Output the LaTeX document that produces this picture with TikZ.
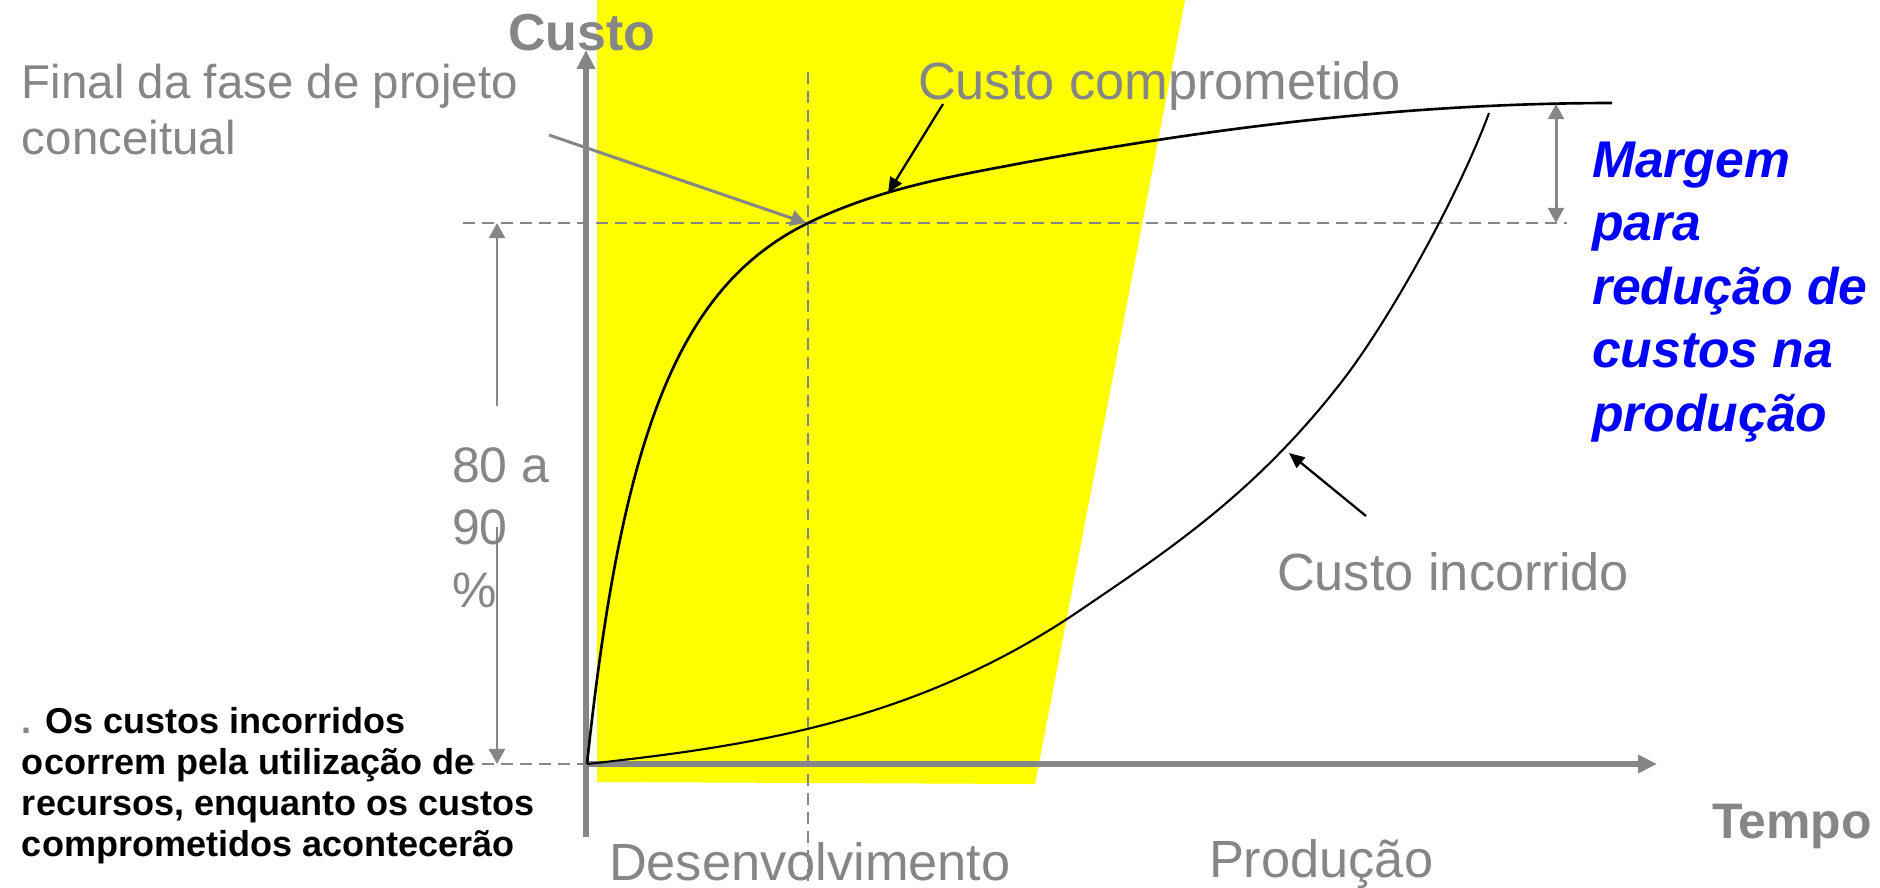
\documentclass[tikz,border=0pt]{standalone}
\usepackage{fontspec}
\setmainfont{Liberation Sans}
\usetikzlibrary{arrows.meta}
\definecolor{lgray}{RGB}{134,134,134}
\definecolor{myyellow}{RGB}{255,255,0}
\definecolor{myblue}{RGB}{0,0,255}
\begin{document}
\begin{tikzpicture}[x=0.1mm,y=-0.1mm,
  lbl/.style={anchor=base west, inner sep=0pt, outer sep=0pt},
  dashline/.style={draw=lgray, line width=0.7pt, dash pattern=on 3.4pt off 2pt},
  axisline/.style={draw=lgray, line width=1.7pt, -{Triangle[length=5.4pt,width=5pt]}},
  garrow/.style={draw=lgray, line width=0.85pt, -{Triangle[length=4.3pt,width=4.5pt]}},
  gdarrow/.style={draw=lgray, line width=0.85pt, {Triangle[length=4.3pt,width=4.5pt]}-{Triangle[length=4.3pt,width=4.5pt]}},
  barrow/.style={draw=black, line width=0.65pt, -{Triangle[length=4.4pt,width=3.8pt]}},
  curvea/.style={draw=black, line width=0.75pt},
  curveb/.style={draw=black, line width=0.6pt},
  glabel/.style={lbl, text=lgray, font=\fontsize{14.9pt}{17.9pt}\selectfont},
]
\useasboundingbox (0,0) rectangle (1880,887);
% yellow development zone
\fill[myyellow] (597,0) -- (1185,0) -- (1035,784) -- (597,782) -- cycle;

% coordinates
\coordinate (O) at (586,764);
\coordinate (ytop) at (586,50);
\coordinate (ybot) at (586,837);
\coordinate (xend) at (1657,764);
\coordinate (hl) at (463,223);
\coordinate (hr) at (1567,223);
\coordinate (vt) at (808,72);
\coordinate (vb) at (808,887);
\coordinate (bl) at (463,764);

% dashed guides
\draw[dashline] (hl) -- (hr);
\draw[dashline] (vt) -- (vb);
\draw[dashline] (bl) -- (O);

% axes
\draw[axisline] (ybot) -- (ytop);
\draw[axisline] (O) -- (xend);

% committed cost curve
\coordinate (ca0) at (587,764);
\coordinate (ca1) at (808,223);
\coordinate (ca2) at (1001,167);
\coordinate (ca3) at (1612,103);
\draw[curvea] (ca0) .. controls (622,434) and (678,287) .. (ca1)
  .. controls (872,192) and (937,179) .. (ca2)
  .. controls (1205,128) and (1408,103) .. (ca3);

% incurred cost curve
\coordinate (cb1) at (1079,611);
\coordinate (cb2) at (1343,380);
\coordinate (cb3) at (1489,113);
\draw[curveb] (ca0) .. controls (751,746) and (915,722) .. (cb1)
  .. controls (1167,551) and (1255,494) .. (cb2)
  .. controls (1392,316) and (1459,194) .. (cb3);

% texts
\node[lbl, text=lgray, font=\fontsize{14.8pt}{17pt}\selectfont\bfseries] (custo) at (508,50) {Custo};
\node[lbl, text=lgray, font=\fontsize{13.5pt}{16.2pt}\selectfont] (final) at (22,98)
  {\begin{tabular}[t]{@{}l@{}}Final da fase de projeto\\conceitual\end{tabular}};
\node[glabel] (ccomp) at (918,99) {Custo comprometido};
\node[lbl, text=lgray, font=\fontsize{14.2pt}{17.9pt}\selectfont] (pct) at (452,482)
  {\begin{tabular}[t]{@{}l@{}}80 a\\90\\\%\end{tabular}};
\node[glabel] (cinc) at (1277,590) {Custo incorrido};
\node[glabel] (desenv) at (609,880) {Desenvolvimento};
\node[glabel] (prod) at (1209,877) {Produção};
\node[lbl, text=lgray, font=\fontsize{14.2pt}{17pt}\selectfont\bfseries] (tempo) at (1712,838) {Tempo};
\node[lbl, text=myblue, font=\fontsize{14.7pt}{18.1pt}\selectfont\bfseries\itshape] (margem) at (1592,177)
  {\begin{tabular}[t]{@{}l@{}}Margem\\para\\redução de\\custos na\\produção\end{tabular}};
\node[lbl, text=black, font=\fontsize{10.25pt}{11.75pt}\selectfont\bfseries] (nota) at (22,733)
  {\begin{tabular}[t]{@{}l@{}}{\color{lgray}.} Os custos incorridos\\ocorrem pela utilização de\\recursos, enquanto os custos\\comprometidos acontecerão\end{tabular}};

% arrows
\coordinate (ccS) at (943,104);
\coordinate (ccT) at (888,193);
\draw[barrow] (ccS) -- (ccT);
\coordinate (fS) at (549,135);
\coordinate (fT) at (806,223);
\draw[garrow] (fS) -- (fT);
\coordinate (ciS) at (1366,516);
\coordinate (ciT) at (1289,453);
\draw[barrow] (ciS) -- (ciT);
\coordinate (pU) at (497,406);
\coordinate (pUT) at (497,223);
\coordinate (pL) at (497,527);
\coordinate (pLT) at (497,764);
\draw[garrow] (pU) -- (pUT);
\draw[garrow] (pL) -- (pLT);
\coordinate (mT) at (1556,104);
\coordinate (mB) at (1556,223);
\draw[gdarrow] (mT) -- (mB);
\end{tikzpicture}
\end{document}
